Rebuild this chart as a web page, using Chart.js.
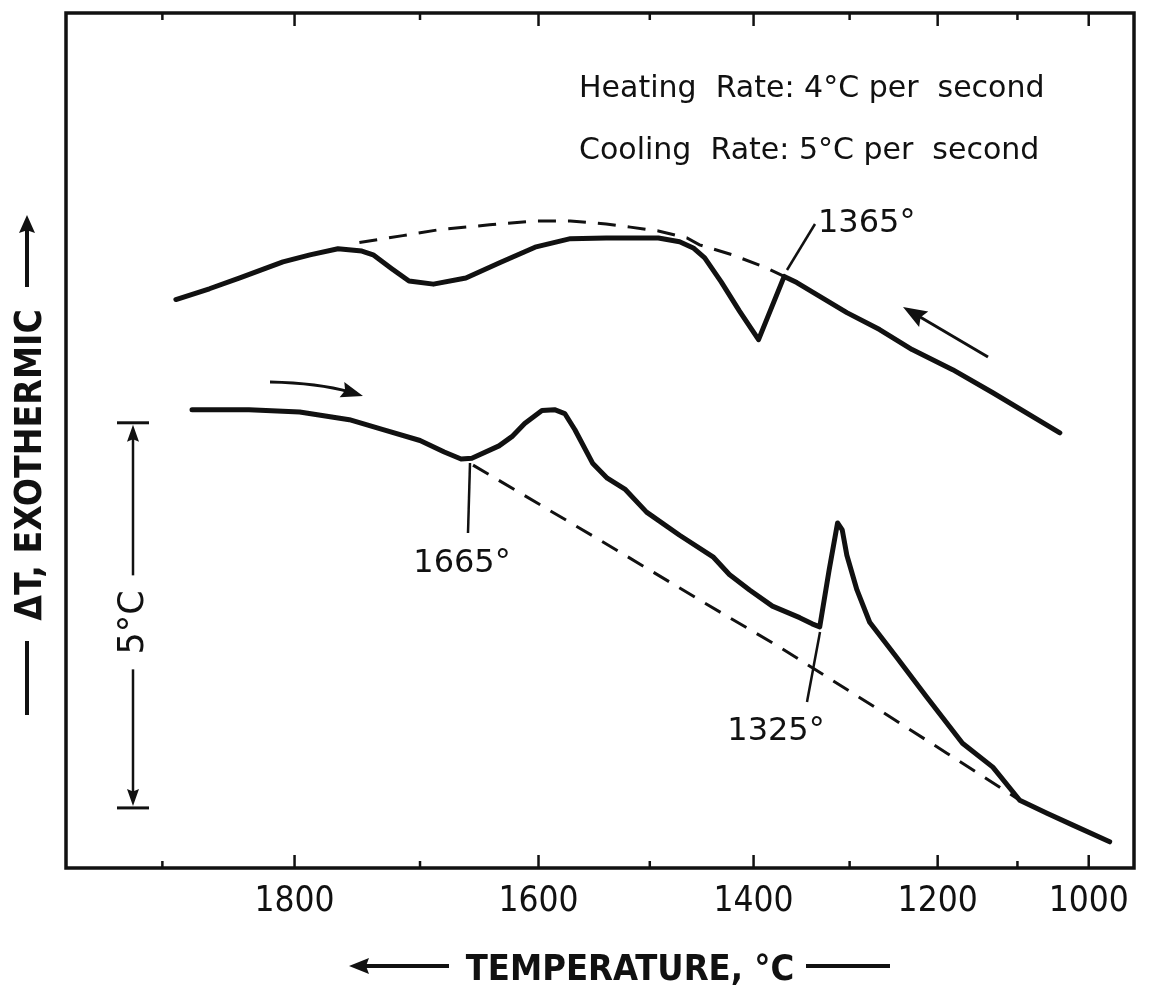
<!DOCTYPE html>
<html>
<head>
<meta charset="utf-8">
<title>DTA heating and cooling curves</title>
<script src="https://cdn.jsdelivr.net/npm/chart.js@4.4.1/dist/chart.umd.min.js"></script>
<style>
  html, body { margin: 0; padding: 0; background: #fff; }
  #wrap { width: 1149px; height: 991px; }
</style>
</head>
<body>
<div id="wrap"><canvas id="dta" width="1149" height="991"></canvas></div>
<script>
// temperature (°C) and ΔT (°C, arbitrary zero)
const coolTemp = [1890, 1865, 1842, 1809, 1788, 1766, 1747, 1738, 1723, 1709, 1689, 1662, 1633, 1603, 1572, 1540,
                  1492, 1472, 1459, 1448, 1432, 1414, 1395, 1369, 1356, 1303, 1267, 1230, 1182, 1132, 1042];
const coolDT   = [7.38, 7.52, 7.66, 7.87, 7.96, 8.04, 8.01, 7.96, 7.78, 7.62, 7.58, 7.66, 7.86, 8.06, 8.17, 8.18,
                  8.18, 8.13, 8.05, 7.92, 7.61, 7.23, 6.86, 7.68, 7.60, 7.21, 6.99, 6.73, 6.47, 6.17, 5.65];

const coolBaseTemp = [1749, 1714, 1683, 1642, 1603, 1572, 1540, 1518, 1492, 1465, 1453, 1421, 1387, 1369];
const coolBaseDT   = [8.12, 8.21, 8.29, 8.35, 8.40, 8.40, 8.36, 8.32, 8.27, 8.18, 8.09, 7.96, 7.79, 7.68];

const heatTemp = [1878, 1835, 1796, 1757, 1730, 1700, 1680, 1666, 1657, 1634, 1623, 1612, 1597, 1586, 1577, 1568,
                  1552, 1539, 1523, 1503, 1472, 1440, 1424, 1404, 1381, 1353, 1340, 1332, 1322, 1313, 1308, 1303,
                  1292, 1278, 1248, 1213, 1170, 1132, 1097, 1060, 1024, 968];
const heatDT   = [5.95, 5.95, 5.92, 5.82, 5.69, 5.55, 5.40, 5.31, 5.32, 5.48, 5.60, 5.77, 5.94, 5.95, 5.90, 5.69,
                  5.25, 5.06, 4.92, 4.62, 4.32, 4.04, 3.81, 3.61, 3.40, 3.25, 3.17, 3.13, 3.87, 4.48, 4.39, 4.06,
                  3.61, 3.19, 2.74, 2.22, 1.62, 1.31, 0.88, 0.71, 0.56, 0.34];

const heatBaseTemp = [1656, 1546, 1453, 1374, 1267, 1189, 1097];
const heatBaseDT   = [5.23, 4.26, 3.48, 2.87, 2.05, 1.49, 0.88];

const tickLabels = [1000, 1200, 1400, 1600, 1800];
const minorTicks = [1100, 1300, 1500, 1700, 1900];

// 5 °C calibration bar
const scaleBarLow = 0.78;
const scaleBarHigh = 5.78;

const ink = '#111';
const condensed = "'DejaVu Sans Condensed', 'DejaVu Sans', sans-serif";
const plain = "'DejaVu Sans', sans-serif";

// the temperature axis of the recorder is not linear: spacing per 100° grows with T
function warp(t) {
    const d = t - 1000;
    return 0.669 * d + 0.00043857 * d * d - 4.3e-8 * d * d * d;
}

class TempScale extends Chart.LinearScale {
    getPixelForValue(value) {
        const w0 = warp(this.min), w1 = warp(this.max);
        return this.getPixelForDecimal((warp(value) - w0) / (w1 - w0));
    }
    getValueForPixel(pixel) {
        const w0 = warp(this.min), w1 = warp(this.max);
        const target = w0 + this.getDecimalForPixel(pixel) * (w1 - w0);
        let lo = this.min, hi = this.max;
        for (let i = 0; i < 50; i++) {
            const mid = (lo + hi) / 2;
            if (warp(mid) < target) lo = mid; else hi = mid;
        }
        return (lo + hi) / 2;
    }
}
TempScale.id = 'temperature';
TempScale.defaults = Chart.LinearScale.defaults;
Chart.register(TempScale);

function pairs(xs, ys) {
    return xs.map((t, i) => ({ x: t, y: ys[i] }));
}

function seg(ctx, x1, y1, x2, y2) {
    ctx.beginPath();
    ctx.moveTo(x1, y1);
    ctx.lineTo(x2, y2);
    ctx.stroke();
}

function head(ctx, tipX, tipY, fromX, fromY, len, half) {
    const ang = Math.atan2(tipY - fromY, tipX - fromX);
    ctx.save();
    ctx.translate(tipX, tipY);
    ctx.rotate(ang);
    ctx.beginPath();
    ctx.moveTo(0, 0);
    ctx.lineTo(-len, -half);
    ctx.lineTo(-len * 0.85, 0);
    ctx.lineTo(-len, half);
    ctx.closePath();
    ctx.fill();
    ctx.restore();
}

// -----------------------------
// Frame, ticks, labels, notes
// -----------------------------
const decorations = {
    id: 'decorations',
    afterDatasetsDraw(chart) {
        const { ctx, chartArea: a, scales: { x, y } } = chart;
        ctx.save();
        ctx.strokeStyle = ink;
        ctx.fillStyle = ink;

        // frame
        ctx.lineWidth = 3.5;
        ctx.strokeRect(a.left, a.top, a.right - a.left, a.bottom - a.top);

        // inward ticks on top and bottom edges
        ctx.lineWidth = 2.5;
        const tick = (v, len) => {
            const px = x.getPixelForValue(v);
            seg(ctx, px, a.bottom, px, a.bottom - len);
            seg(ctx, px, a.top, px, a.top + len);
        };
        tickLabels.forEach(v => tick(v, 13));
        minorTicks.forEach(v => tick(v, 7));

        // y title: — ΔT, EXOTHERMIC —>
        ctx.save();
        ctx.translate(27, 465);
        ctx.rotate(-Math.PI / 2);
        ctx.font = 'bold 37px ' + condensed;
        ctx.textAlign = 'center';
        ctx.textBaseline = 'alphabetic';
        ctx.fillText('ΔT, EXOTHERMIC', 0, 14);
        ctx.lineWidth = 4;
        seg(ctx, -250, 0, -176, 0);
        seg(ctx, 178, 0, 236, 0);
        head(ctx, 250, 0, 178, 0, 18, 8);
        ctx.restore();

        // x title: <—— TEMPERATURE, °C ——
        ctx.font = 'bold 36px ' + condensed;
        ctx.textAlign = 'center';
        ctx.fillText('TEMPERATURE, °C', 630, 980);
        ctx.lineWidth = 4;
        seg(ctx, 449, 966, 362, 966);
        head(ctx, 349, 966, 449, 966, 20, 8);
        seg(ctx, 806, 966, 890, 966);

        // rates
        ctx.font = '30px ' + plain;
        ctx.textAlign = 'left';
        ctx.fillText('Heating  Rate: 4°C per  second', 579, 97);
        ctx.fillText('Cooling  Rate: 5°C per  second', 579, 159);

        // 5 °C bar
        const yTop = y.getPixelForValue(scaleBarHigh);
        const yBot = y.getPixelForValue(scaleBarLow);
        const bx = 133;
        ctx.lineWidth = 3;
        seg(ctx, 117, yTop, 149, yTop);
        seg(ctx, 117, yBot, 149, yBot);
        ctx.lineWidth = 2.5;
        const mid = (yTop + yBot) / 2 + 7;
        seg(ctx, bx, yTop + 14, bx, mid - 47);
        seg(ctx, bx, mid + 47, bx, yBot - 14);
        head(ctx, bx, yTop + 2, bx, yTop + 30, 17, 6);
        head(ctx, bx, yBot - 2, bx, yBot - 30, 17, 6);
        ctx.save();
        ctx.translate(bx, mid);
        ctx.rotate(-Math.PI / 2);
        ctx.font = '35px ' + plain;
        ctx.textAlign = 'center';
        ctx.textBaseline = 'middle';
        ctx.fillText('5°C', 0, 1);
        ctx.restore();

        // transition temperatures
        ctx.font = '32px ' + plain;
        ctx.textAlign = 'left';
        ctx.textBaseline = 'alphabetic';
        ctx.fillText('1365°', 818, 232);
        ctx.textAlign = 'center';
        ctx.fillText('1665°', 462, 572);
        ctx.fillText('1325°', 776, 740);
        ctx.lineWidth = 2.5;
        seg(ctx, 815, 224, 787, 270);
        seg(ctx, 468, 533, 470, 463);
        seg(ctx, 807, 702, 820, 632);

        // direction of travel
        ctx.lineWidth = 3;
        seg(ctx, 988, 357, 915, 314);
        head(ctx, 903, 307, 988, 357, 24, 9);
        ctx.beginPath();
        ctx.moveTo(270, 382);
        ctx.quadraticCurveTo(318, 383, 350, 392);
        ctx.stroke();
        head(ctx, 363, 396, 340, 389, 22, 8);

        ctx.restore();
    }
};

const solid = { borderColor: ink, borderWidth: 5, pointRadius: 0, tension: 0,
                borderJoinStyle: 'round', borderCapStyle: 'round', fill: false };
const dashed = { borderColor: ink, borderWidth: 3, pointRadius: 0, tension: 0,
                 borderDash: [18, 12], fill: false };

new Chart(document.getElementById('dta'), {
    type: 'line',
    data: {
        datasets: [
            { label: 'Cooling', data: pairs(coolTemp, coolDT), ...solid },
            { label: 'Cooling baseline', data: pairs(coolBaseTemp, coolBaseDT), ...dashed },
            { label: 'Heating', data: pairs(heatTemp, heatDT), ...solid },
            { label: 'Heating baseline', data: pairs(heatBaseTemp, heatBaseDT), ...dashed }
        ]
    },
    options: {
        responsive: false,
        animation: false,
        layout: { padding: { left: 66, right: 15, top: 13, bottom: 0 } },
        plugins: { legend: { display: false }, tooltip: { enabled: false } },
        scales: {
            x: {
                type: 'temperature',
                min: 929,
                max: 1970,
                reverse: true,
                bounds: 'data',
                grid: { display: false, drawTicks: false },
                border: { display: false },
                afterBuildTicks: s => { s.ticks = tickLabels.map(v => ({ value: v })); },
                afterFit: s => { s.height = 123; },
                ticks: {
                    autoSkip: false,
                    maxRotation: 0,
                    padding: 13,
                    color: ink,
                    font: { family: condensed, size: 35 },
                    callback: v => String(v)
                }
            },
            y: {
                type: 'linear',
                min: 0,
                max: 11.1,
                display: false
            }
        }
    },
    plugins: [decorations]
});
</script>
</body>
</html>
